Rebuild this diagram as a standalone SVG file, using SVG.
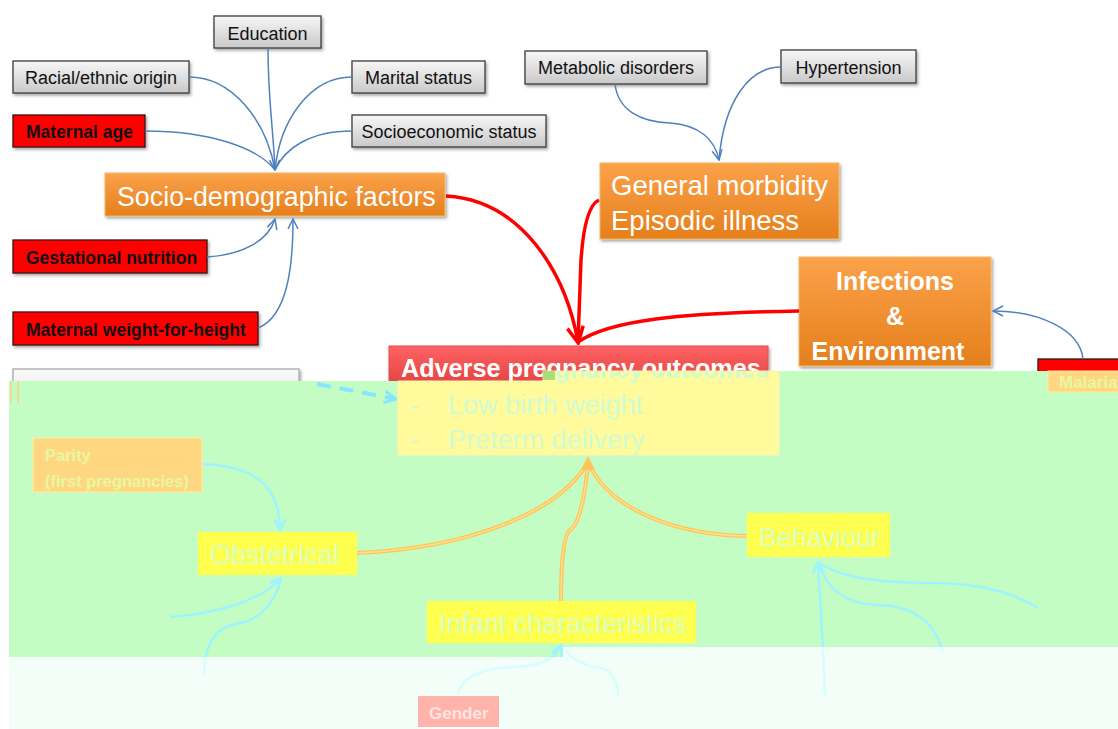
<svg xmlns="http://www.w3.org/2000/svg" xmlns:xlink="http://www.w3.org/1999/xlink" width="1118" height="729" viewBox="0 0 1118 729">
<style>
text{font-family:"Liberation Sans",Arial,sans-serif}
.gray{fill:url(#gGray);stroke:#3c3c3c;stroke-width:1.3;filter:url(#sh)}
.red{fill:#ff0000;stroke:#3a1010;stroke-width:1.3;filter:url(#sh)}
.org{fill:url(#gOrg);stroke:#f3b867;stroke-width:1;filter:url(#sh)}
.gt{font-size:18px;fill:#111;text-anchor:middle}
.rt{font-size:17.5px;font-weight:bold;fill:#111}
.ot{fill:#fff}
.blue{fill:none;stroke:#4f81bd;stroke-width:1.5}
.redc{fill:none;stroke:#ff0000;stroke-width:3.5}
.yel{fill:#ffff50}
.yt{fill:#d9ffc0;font-size:27px}
.oc{fill:none;stroke:#ffc45a;stroke-width:4}
.oci{fill:none;stroke:#ffe394;stroke-width:1.3}
</style>
<defs>
<linearGradient id="gGray" x1="0" y1="0" x2="0" y2="1"><stop offset="0" stop-color="#f7f7f7"/><stop offset="1" stop-color="#c9c9c9"/></linearGradient>
<linearGradient id="gHyg" x1="0" y1="0" x2="0" y2="1"><stop offset="0" stop-color="#fbfbfb"/><stop offset="1" stop-color="#e2e2e2"/></linearGradient>
<linearGradient id="gOrg" x1="0" y1="0" x2="0" y2="1"><stop offset="0" stop-color="#fba24a"/><stop offset="1" stop-color="#e57f1c"/></linearGradient>
<linearGradient id="gRedB" x1="0" y1="0" x2="0" y2="1"><stop offset="0" stop-color="#ff6262"/><stop offset="1" stop-color="#d23431"/></linearGradient>
<filter id="sh" x="-10%" y="-20%" width="130%" height="160%"><feDropShadow dx="1.5" dy="2" stdDeviation="1.5" flood-color="#000" flood-opacity="0.35"/></filter>
<marker id="mb" viewBox="0 0 12 12" refX="11" refY="6" markerWidth="12" markerHeight="12" markerUnits="userSpaceOnUse" orient="auto"><path d="M1,1 L11,6 L1,11" fill="none" stroke="#4f81bd" stroke-width="1.5"/></marker>
<marker id="mr" viewBox="0 0 20 20" refX="17" refY="10" markerWidth="20" markerHeight="20" markerUnits="userSpaceOnUse" orient="auto"><path d="M2,2 L18,10 L2,18" fill="none" stroke="#ff0000" stroke-width="3.5"/></marker>
<marker id="mc" viewBox="0 0 12 12" refX="11" refY="6" markerWidth="13" markerHeight="13" markerUnits="userSpaceOnUse" orient="auto"><path d="M1,1 L11,6 L1,11" fill="none" stroke="context-stroke" stroke-width="2.5"/></marker>
<marker id="md" viewBox="0 0 12 12" refX="11" refY="6" markerWidth="14" markerHeight="14" markerUnits="userSpaceOnUse" orient="auto"><path d="M1,1 L11,6 L1,11" fill="none" stroke="#86e6ff" stroke-width="2.5"/></marker>
<clipPath id="clipGreen"><path d="M9,381 H543 V371 H1118 V647 H563 V657 H9 Z"/></clipPath>
<clipPath id="clipPale"><path d="M9,657 H563 V647 H1118 V729 H9 Z"/></clipPath>
<clipPath id="clipYel"><path d="M398,381 H543 V371 H779 V455 H398 Z"/></clipPath>
<g id="cyanPaths" fill="none" stroke-width="2.5">
<path d="M202,464 C250,466 280,482 280,530" marker-end="url(#mc)"/>
<path d="M170,617 C220,613 262,600 281,578" marker-end="url(#mc)"/>
<path d="M204,675 C204,650 212,627 237,624 C262,620 276,600 281,578"/>
<path d="M825,695 C823,640 820,600 818,562" marker-end="url(#mc)"/>
<path d="M943,652 C935,620 910,605 877,605 C845,604 826,588 818,562"/>
<path d="M1038,608 C1010,590 970,583 933,583 C880,583 840,578 818,562"/>
<path d="M458,694 C462,675 485,668 515,667 C540,666 555,660 561,645" marker-end="url(#mc)"/>
<path d="M618,697 C618,680 610,668 600,668 C590,667 570,660 566,650"/>
</g>
</defs>
<rect width="1118" height="729" fill="#fff"/>

<g id="hidden-nodes">
<g id="node-hygiene"><rect x="13" y="369" width="286" height="34" fill="url(#gHyg)" stroke="#a8a8a8" stroke-width="1.3" filter="url(#sh)"/></g>
<g id="node-malaria-red"><rect class="red" x="1038" y="359" width="90" height="30"/></g>
</g>

<g id="node-education"><rect class="gray" x="214" y="16" width="107" height="32"/><text class="gt" x="267.5" y="40">Education</text></g>
<g id="node-racial"><rect class="gray" x="13" y="61" width="176" height="32"/><text class="gt" x="101" y="84">Racial/ethnic origin</text></g>
<g id="node-marital"><rect class="gray" x="352" y="61" width="133" height="32"/><text class="gt" x="418.5" y="84">Marital status</text></g>
<g id="node-maternal-age"><rect class="red" x="13" y="115" width="132" height="32"/><text class="rt" x="26" y="138">Maternal age</text></g>
<g id="node-socioeconomic"><rect class="gray" x="352" y="115" width="194" height="32"/><text class="gt" x="449" y="138">Socioeconomic status</text></g>
<g id="node-sociodem"><rect class="org" x="105" y="173" width="340" height="43"/><text class="ot" x="117" y="206" font-size="26.8">Socio-demographic factors</text></g>
<g id="node-gestational"><rect class="red" x="13" y="240" width="194" height="33"/><text class="rt" x="26" y="264">Gestational nutrition</text></g>
<g id="node-mwh"><rect class="red" x="13" y="312" width="245" height="33"/><text class="rt" x="26" y="336">Maternal weight-for-height</text></g>
<g id="node-metabolic"><rect class="gray" x="525" y="51" width="182" height="33"/><text class="gt" x="616" y="74">Metabolic disorders</text></g>
<g id="node-hypertension"><rect class="gray" x="781" y="50" width="135" height="33"/><text class="gt" x="848.5" y="74">Hypertension</text></g>
<g id="node-morbidity"><rect class="org" x="600" y="163" width="239" height="76"/><text class="ot" x="611" y="195" font-size="27.5">General morbidity</text><text class="ot" x="611" y="230" font-size="27.5">Episodic illness</text></g>
<g id="node-infections"><rect class="org" x="799" y="257" width="192" height="109"/><text class="ot" x="895" y="290" font-size="25" font-weight="bold" text-anchor="middle">Infections</text><text class="ot" x="895" y="325" font-size="25" font-weight="bold" text-anchor="middle">&amp;</text><text class="ot" x="888" y="360" font-size="25" font-weight="bold" text-anchor="middle">Environment</text></g>
<g id="node-adverse"><rect x="389" y="346" width="379" height="60" fill="url(#gRedB)" stroke="#e05050" stroke-width="1" filter="url(#sh)"/><text x="401" y="377" font-size="25.2" font-weight="bold" fill="#fff">Adverse pregnancy outcomes</text></g>

<g id="connectors">
<path class="blue" d="M268,48 C268,100 273,125 275,170" marker-end="url(#mb)"/>
<path class="blue" d="M189,77 C232,77 266,120 275,170"/>
<path class="blue" d="M352,77 C310,77 280,120 275,170"/>
<path class="blue" d="M145,131 C210,131 258,148 275,170"/>
<path class="blue" d="M352,131 C310,131 285,148 275,170"/>
<path class="blue" d="M207,257 C240,255 268,242 275,219" marker-end="url(#mb)"/>
<path class="blue" d="M258,328 C288,316 293,265 293,219" marker-end="url(#mb)"/>
<path class="blue" d="M615,84 C618,110 640,122 670,123 C700,125 715,140 719,160" marker-end="url(#mb)"/>
<path class="blue" d="M781,67 C750,67 724,100 719,160"/>
<path class="blue" d="M1083,359 C1080,330 1040,311 993,311" marker-end="url(#mb)"/>
<path class="redc" d="M446,196 C520,200 565,270 578,342" marker-end="url(#mr)"/>
<path class="redc" d="M599,200 C588,205 583,230 581,260 L578,342"/>
<path class="redc" d="M799,311 C680,313 610,320 578,342"/>
</g>

<g id="overlay-background">
<path d="M9,381 H543 V371 H1118 V647 H563 V657 H9 Z" fill="#c4fdc4"/>
<path d="M9,657 H563 V647 H1118 V729 H9 Z" fill="#f4fef8"/>
<line x1="11" y1="381" x2="11" y2="403" stroke="#ffd080" stroke-width="1.5"/>
<line x1="18" y1="381" x2="18" y2="403" stroke="#ffd080" stroke-width="1.5"/>
</g>

<g id="overlay-connectors">
<use href="#cyanPaths" xlink:href="#cyanPaths" stroke="#9ff3ff" clip-path="url(#clipGreen)"/>
<use href="#cyanPaths" xlink:href="#cyanPaths" stroke="#d6fdff" clip-path="url(#clipPale)"/>
<path d="M317,384 L396,399" fill="none" stroke="#86e6ff" stroke-width="4" stroke-dasharray="14,9" marker-end="url(#md)"/>
<path class="oc" d="M357,553 C470,548 560,512 588,462"/>
<path class="oc" d="M747,536 C680,535 610,512 588,462"/>
<path class="oc" d="M561,601 C561,570 563,535 570,530 C578,526 585,500 588,462"/>
<path class="oci" d="M357,553 C470,548 560,512 588,462"/>
<path class="oci" d="M747,536 C680,535 610,512 588,462"/>
<path class="oci" d="M561,601 C561,570 563,535 570,530 C578,526 585,500 588,462"/>
<path d="M588,456 L595,470 L581,470 Z" fill="#ffc45a"/>
</g>

<g id="node-adverse-overlay">
<path d="M398,381 H543 V371 H779 V455 H398 Z" fill="#fffa9c" stroke="#fff3b0" stroke-width="1"/>
<g clip-path="url(#clipYel)"><text x="409" y="378" font-size="25.2" font-weight="bold" fill="#d2fcd0">Adverse pregnancy outcomes</text></g>
<rect x="543" y="371" width="12" height="9" fill="#8fd060" opacity="0.7"/>
<text x="410" y="414" font-size="26" fill="#d2fcd0">-</text>
<text x="448" y="414" class="yt" style="fill:#d2fcd0">Low birth weight</text>
<text x="410" y="449" font-size="26" fill="#d2fcd0">-</text>
<text x="448" y="449" class="yt" style="fill:#d2fcd0">Preterm delivery</text>
</g>
<g id="node-parity"><rect x="33" y="438" width="169" height="54" fill="#ffd780" stroke="#fff0a0" stroke-width="1"/><text x="45" y="461" font-size="16.5" font-weight="bold" fill="#e8f7a0">Parity</text><text x="45" y="487" font-size="16.5" font-weight="bold" fill="#e8f7a0">(first pregnancies)</text></g>
<g id="node-obstetrical"><rect class="yel" x="198" y="532" width="159" height="43"/><text class="yt" x="210" y="564">Obstetrical</text></g>
<g id="node-behaviour"><rect class="yel" x="747" y="513" width="143" height="44"/><text class="yt" x="759" y="547" font-size="26.5">Behaviour</text></g>
<g id="node-infant"><rect class="yel" x="427" y="601" width="269" height="42"/><text class="yt" x="439" y="633">Infant characteristics</text></g>
<g id="node-gender"><rect x="418" y="696" width="81" height="31" fill="#ffb3aa"/><text x="429" y="719" font-size="17" font-weight="bold" fill="#ffe4e0">Gender</text></g>
<g id="node-malaria"><rect x="1048" y="371" width="75" height="21" fill="#ffd780" stroke="#fff0a0" stroke-width="1"/><text x="1059" y="388" font-size="17" font-weight="bold" fill="#e8f7a0">Malaria</text></g>
</svg>
